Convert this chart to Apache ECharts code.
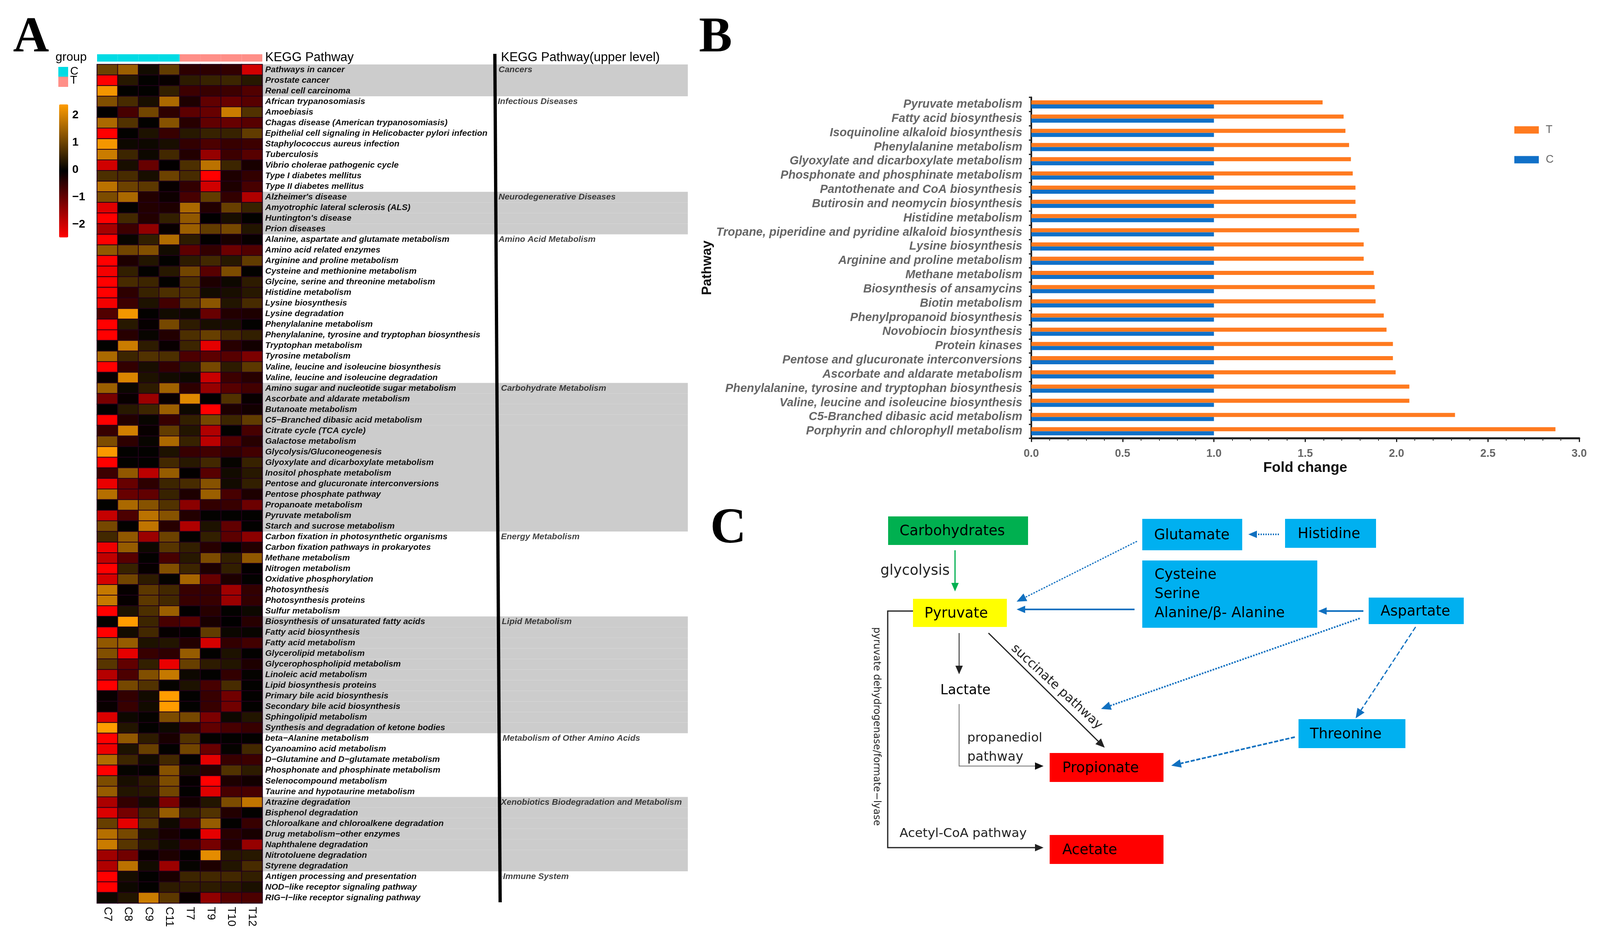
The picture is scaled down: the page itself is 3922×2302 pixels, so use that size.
<!DOCTYPE html>
<html><head><meta charset="utf-8">
<style>html,body{margin:0;padding:0;background:#fff}#c{width:3922px;height:2302px}</style>
<script src="https://cdn.jsdelivr.net/npm/echarts@6/dist/echarts.min.js"></script>
</head><body><div id="c"></div>
<script>
const samples=['C7','C8','C9','C11','T7','T9','T10','T12'];
const sampleGroups=['C','C','C','C','T','T','T','T'];
const pathways=["Pathways in cancer","Prostate cancer","Renal cell carcinoma","African trypanosomiasis","Amoebiasis","Chagas disease (American trypanosomiasis)","Epithelial cell signaling in Helicobacter pylori infection","Staphylococcus aureus infection","Tuberculosis","Vibrio cholerae pathogenic cycle","Type I diabetes mellitus","Type II diabetes mellitus","Alzheimer's disease","Amyotrophic lateral sclerosis (ALS)","Huntington's disease","Prion diseases","Alanine, aspartate and glutamate metabolism","Amino acid related enzymes","Arginine and proline metabolism","Cysteine and methionine metabolism","Glycine, serine and threonine metabolism","Histidine metabolism","Lysine biosynthesis","Lysine degradation","Phenylalanine metabolism","Phenylalanine, tyrosine and tryptophan biosynthesis","Tryptophan metabolism","Tyrosine metabolism","Valine, leucine and isoleucine biosynthesis","Valine, leucine and isoleucine degradation","Amino sugar and nucleotide sugar metabolism","Ascorbate and aldarate metabolism","Butanoate metabolism","C5−Branched dibasic acid metabolism","Citrate cycle (TCA cycle)","Galactose metabolism","Glycolysis/Gluconeogenesis","Glyoxylate and dicarboxylate metabolism","Inositol phosphate metabolism","Pentose and glucuronate interconversions","Pentose phosphate pathway","Propanoate metabolism","Pyruvate metabolism","Starch and sucrose metabolism","Carbon fixation in photosynthetic organisms","Carbon fixation pathways in prokaryotes","Methane metabolism","Nitrogen metabolism","Oxidative phosphorylation","Photosynthesis","Photosynthesis proteins","Sulfur metabolism","Biosynthesis of unsaturated fatty acids","Fatty acid biosynthesis","Fatty acid metabolism","Glycerolipid metabolism","Glycerophospholipid metabolism","Linoleic acid metabolism","Lipid biosynthesis proteins","Primary bile acid biosynthesis","Secondary bile acid biosynthesis","Sphingolipid metabolism","Synthesis and degradation of ketone bodies","beta−Alanine metabolism","Cyanoamino acid metabolism","D−Glutamine and D−glutamate metabolism","Phosphonate and phosphinate metabolism","Selenocompound metabolism","Taurine and hypotaurine metabolism","Atrazine degradation","Bisphenol degradation","Chloroalkane and chloroalkene degradation","Drug metabolism−other enzymes","Naphthalene degradation","Nitrotoluene degradation","Styrene degradation","Antigen processing and presentation","NOD−like receptor signaling pathway","RIG−I−like receptor signaling pathway"];
const upperLevels=["Cancers","Infectious Diseases","Neurodegenerative Diseases","Amino Acid Metabolism","Carbohydrate Metabolism","Energy Metabolism","Lipid Metabolism","Metabolism of Other Amino Acids","Xenobiotics Biodegradation and Metabolism","Immune System"];
const upperCounts=[3,9,4,14,14,8,11,6,7,3];
const heatValues=[
[1.0,1.45,.15,.9,-.45,-.45,-.5,-2.0],
[-2.45,.35,0,-.1,.4,.5,.55,.35],
[2.3,0,0,.45,-.6,-.55,-.6,-.8],
[1.2,.65,.2,1.6,-.3,-.95,-1.0,-.85],
[-.05,-.7,1.05,-.45,-.9,-1.0,1.9,.75],
[1.6,.75,0,1.25,-.4,-.95,-1.0,-.85],
[-2.45,0,.25,-.55,.35,.5,.5,.9],
[2.3,.1,.1,.2,-.5,-.75,-.55,-.6],
[1.9,.55,.1,.6,-.35,-1.45,-.6,-.85],
[-2.0,.2,-1.0,-.05,.7,1.75,.55,-.25],
[.7,.65,.2,1.0,.65,-2.45,-.3,-.5],
[1.75,1.0,.85,-.1,-.5,-2.0,-.3,-.7],
[1.15,1.6,-.35,-.15,-.7,.9,-.5,-1.7],
[-2.15,0,-.35,-.3,1.6,-.35,.95,.5],
[-2.45,.6,-.35,.45,1.35,-.02,.2,0],
[-1.6,-.6,-1.4,-.1,1.45,.9,1.1,.3],
[-2.45,.05,.45,1.65,.4,-.05,-.25,-.1],
[1.35,1.05,1.2,.15,-.9,-.5,-1.05,-.8],
[-2.45,-.3,.3,0,.4,.6,.35,.9],
[-2.35,.45,0,.35,1.05,-.85,1.15,0],
[-2.45,.65,.55,0,.7,-.3,.1,.4],
[-2.45,-.45,.5,.7,.7,.15,.2,.35],
[-2.35,-.6,.25,-.65,.8,1.3,.3,.65],
[-.8,2.3,0,.15,.1,-1.0,-.35,-.3],
[-2.45,.35,-.08,1.1,.4,.2,.2,0],
[-2.45,-.4,.05,-.35,.7,.95,.6,.45],
[0,1.9,.4,-.1,.55,-2.2,-.4,-.2],
[1.6,.55,.75,.7,-.75,-.9,-.85,-1.2],
[-2.45,-.5,.2,-.5,.35,1.1,.4,.85],
[-.1,2.05,.25,.15,.1,-1.95,-.6,-.4],
[1.45,.08,.4,1.5,-.45,-1.45,-.85,-.65],
[-1.15,-.1,-1.5,-.1,2.1,-.02,.75,-.1],
[-.02,.35,.55,1.45,.1,-2.45,-.3,-.2],
[-2.45,-.35,.05,-.55,.45,1.1,.55,.9],
[-.55,1.95,-.1,.9,.3,-1.7,0,-.7],
[1.15,-.45,.05,1.6,.5,-1.8,-.8,-.4],
[2.35,0,0,.25,-.55,-.65,-.5,-.65],
[-2.45,0,0,.6,.35,.6,.03,.5],
[-.6,1.35,-1.8,1.4,-.05,-.85,.15,.35],
[-2.25,-1.0,-.45,.55,.65,1.25,.15,.45],
[1.7,-1.0,-.95,.5,-.3,1.45,-.7,-.3],
[0,1.6,1.25,.75,-1.35,-.5,-.55,-1.05],
[-1.9,-.75,1.75,1.25,-.35,0,0,0],
[1.1,0,1.8,-.4,-1.7,.25,-.95,0],
[.6,1.35,-1.5,1.0,0,.45,-.9,-1.35],
[-2.3,1.4,.1,.8,.45,-.4,0,-.35],
[-1.85,-.85,0,-.7,.35,1.15,.45,1.35],
[-2.45,.5,-.08,1.2,.55,-.3,.45,-.05],
[-2.05,1.05,.4,.02,1.55,-1.0,-.3,0],
[1.85,-.08,.85,.6,-.55,-.55,-1.55,-.5],
[1.85,-.08,.85,.6,-.55,-.55,-1.5,-.5],
[-2.45,.25,.7,1.45,-.05,-.4,0,.1],
[0,2.4,.55,-.7,-.85,-.25,-.02,-.4],
[-2.45,.15,.6,-.08,0,.9,.08,.05],
[1.35,1.4,.25,.3,-.35,-2.05,-.5,-.65],
[1.2,-2.2,-.55,-.45,1.4,0,.25,0],
[.8,-.95,.45,-2.25,.95,.4,.3,-.3],
[-1.75,-.75,1.2,1.85,.1,0,-.5,.02],
[-2.45,1.1,.75,.02,.25,-.7,.65,0],
[-.1,-.5,.15,2.4,0,-.55,-1.1,0],
[-.1,-.55,.15,2.4,0,-.55,-1.1,0],
[-2.1,.1,.02,1.15,1.1,-1.2,.1,.3],
[2.4,.3,0,.1,-.55,-.95,-.7,-.55],
[-2.45,1.35,.4,-.25,.75,0,0,0],
[-2.3,.25,.95,0,1.05,-1.0,.02,.6],
[1.65,.55,.15,.6,0,-2.2,-.55,-.6],
[-2.45,.03,.02,1.25,.2,-.4,.75,.4],
[1.15,.2,.4,1.15,-.08,-2.45,-.3,-.2],
[1.4,.3,.35,1.05,0,-2.15,-.7,-.7],
[-1.65,-.5,.15,-1.2,-.2,.3,1.15,1.8],
[-2.1,-1.15,.55,1.4,.45,.75,-.35,0],
[.95,-2.2,.75,.12,-.7,1.4,0,-.55],
[1.7,1.1,.25,-.25,0,-2.2,-.4,-.25],
[1.9,.8,.35,.15,-.55,-1.15,-.35,-1.45],
[-1.55,-1.1,-.1,-.3,0,2.15,.35,.35],
[-1.7,1.75,.15,-1.5,.03,-.3,.3,.65],
[-2.45,.18,0,-.25,.55,.6,.6,.45],
[-2.45,.1,0,.4,.4,.4,.35,.22],
[.1,.3,1.9,.85,-.1,-1.4,-.85,-.75]];
const barPathways=["Pyruvate metabolism","Fatty acid biosynthesis","Isoquinoline alkaloid biosynthesis","Phenylalanine metabolism","Glyoxylate and dicarboxylate metabolism","Phosphonate and phosphinate metabolism","Pantothenate and CoA biosynthesis","Butirosin and neomycin biosynthesis","Histidine metabolism","Tropane, piperidine and pyridine alkaloid biosynthesis","Lysine biosynthesis","Arginine and proline metabolism","Methane metabolism","Biosynthesis of ansamycins","Biotin metabolism","Phenylpropanoid biosynthesis","Novobiocin biosynthesis","Protein kinases","Pentose and glucuronate interconversions","Ascorbate and aldarate metabolism","Phenylalanine, tyrosine and tryptophan biosynthesis","Valine, leucine and isoleucine biosynthesis","C5-Branched dibasic acid metabolism","Porphyrin and chlorophyll metabolism"];
const foldT=[1.595,1.71,1.72,1.74,1.75,1.76,1.775,1.775,1.78,1.795,1.82,1.82,1.875,1.88,1.885,1.93,1.945,1.98,1.98,1.995,2.07,2.07,2.32,2.87];
const foldC=[1,1,1,1,1,1,1,1,1,1,1,1,1,1,1,1,1,1,1,1,1,1,1,1];

// layout
const H={l:238,t:158,w:405,h:2056};
const bandW=1043;
const upperX=[1222,1220,1222,1222,1228,1228,1230,1232,1228,1232];
const F='"Liberation Sans",Arial,sans-serif';
const FD='"DejaVu Sans",sans-serif';
const colC='#00dbe4',colT='#ff8f88',grey='#cccccc';

const heatData=[];
heatValues.forEach((r,y)=>r.forEach((v,x)=>heatData.push([x,y,v])));
const bandData=[],upperData=[];
let row=0;
upperCounts.forEach((n,g)=>{
  upperData.push({value:[(upperX[g]-(H.l+H.w))/bandW,row],name:upperLevels[g]});
  for(let i=0;i<n;i++){bandData.push({value:1,itemStyle:g%2===0?{color:grey,borderColor:grey,borderWidth:2}:{color:'rgba(0,0,0,0)'}});row++;}
});

// panel C content
const boxes=[
 {t:['Carbohydrates'],c:'#00b050',r:[2177,1266,343,70],tx:2205},
 {t:['Glutamate'],c:'#00b0f0',r:[2800,1272,245,77],tx:2829},
 {t:['Histidine'],c:'#00b0f0',r:[3150,1272,223,71],tx:3181},
 {t:['Cysteine','Serine','Alanine/β- Alanine'],c:'#00b0f0',r:[2800,1374,429,165],tx:2830,ty:[1410,1457,1504]},
 {t:['Aspartate'],c:'#00b0f0',r:[3355,1465,233,65],tx:3384},
 {t:['Pyruvate'],c:'#ffff00',r:[2238,1468,230,69],tx:2266},
 {t:['Threonine'],c:'#00b0f0',r:[3183,1763,262,71],tx:3211},
 {t:['Propionate'],c:'#ff0000',r:[2573,1846,279,71],tx:2604},
 {t:['Acetate'],c:'#ff0000',r:[2573,2047,279,71],tx:2604}];
const BL='#1070c0',BK='#111',GN='#00b050';
const arrows=[
 {p:[[2341,1349],[2341,1450]],c:GN,w:3,s:14},
 {p:[[2787,1327],[2492,1475]],c:BL,w:3,d:[4,3],s:16},
 {p:[[3135,1310],[3060,1310]],c:BL,w:4,d:[3,3],s:14},
 {p:[[2781,1494],[2492,1494]],c:BL,w:4,s:14},
 {p:[[3342,1498],[3231,1498]],c:BL,w:4,s:14},
 {p:[[3333,1516],[2699,1738]],c:BL,w:4,d:[4,3],s:16},
 {p:[[3470,1537],[3323,1761]],c:BL,w:3,d:[12,6],s:16},
 {p:[[3174,1807],[2871,1877]],c:BL,w:4,d:[10,4],s:16},
 {p:[[2351,1552],[2351,1653]],c:'#222',w:2,s:14},
 {p:[[2423,1552],[2708,1833]],c:'#222',w:3,s:15},
 {p:[[2351,1726],[2351,1878],[2558,1878]],c:'#777',hc:BK,w:2,s:14},
 {p:[[2238,1498],[2176,1498],[2176,2078],[2558,2078]],c:'#222',w:3,s:14}];
const labelsC=[
 {t:'glycolysis',x:2158,y:1400,fs:35},
 {t:'Lactate',x:2305,y:1693,fs:33,c:'#000'},
 {t:'propanediol',x:2371,y:1810,fs:31},
 {t:'pathway',x:2371,y:1857,fs:32},
 {t:'Acetyl-CoA pathway',x:2205,y:2044,fs:31},
 {t:'pyruvate dehydrogenase/formate−lyase',x:2148,y:1781,fs:24,rot:-Math.PI/2,al:'center'},
 {t:'succinate pathway',x:2590,y:1684,fs:31,rot:-0.745,al:'center'}];

const gfx=[];
function txt(t,x,y,fs,o={}){gfx.push({type:'text',x,y,rotation:o.rot||0,z:30,style:{text:t,x:0,y:0,font:`${o.it?'italic ':''}${o.w||'normal'} ${fs}px ${o.f||F}`,fill:o.c||'#000',align:o.al||'left',verticalAlign:'middle'}});}
function rect(x,y,w,h,c){gfx.push({type:'rect',z:20,shape:{x,y,width:w,height:h},style:{fill:c}});}
// panel letters
txt('A',76,94,122,{f:'"Liberation Serif",serif',w:'bold',al:'center'});
txt('B',1754,94,122,{f:'"Liberation Serif",serif',w:'bold',al:'center'});
txt('C',1785,1298,122,{f:'"Liberation Serif",serif',w:'bold',al:'center'});
// panel A annotations
txt('group',136,141,30);
txt('KEGG Pathway',650,141,31);
txt('KEGG Pathway(upper level)',1228,141,31);
rect(143,164,24,24,colC);rect(143,188,24,25,colT);
txt('C',172,175,28);txt('T',172,197,28);
gfx.push({type:'line',z:25,shape:{x1:1213,y1:132,x2:1226,y2:2212},style:{stroke:'#000',lineWidth:8}});
// panel C
boxes.forEach(b=>{
  rect(b.r[0],b.r[1],b.r[2],b.r[3],b.c);
  b.t.forEach((s,i)=>txt(s,b.tx,b.ty?b.ty[i]:b.r[1]+b.r[3]/2+2,35,{f:FD}));
});
arrows.forEach(a=>{
  const n=a.p.length,e=a.p[n-1],q=a.p[n-2],ang=Math.atan2(e[1]-q[1],e[0]-q[0]);
  const base=[e[0]-a.s*1.5*Math.cos(ang),e[1]-a.s*1.5*Math.sin(ang)];
  const pts=a.p.slice(0,n-1).concat([base]);
  gfx.push({type:'polyline',z:22,shape:{points:pts},style:{stroke:a.c,lineWidth:a.w,lineDash:a.d||null,fill:null}});
  const nx=-Math.sin(ang),ny=Math.cos(ang),hw=a.s*.65;
  gfx.push({type:'polygon',z:22,shape:{points:[e,[base[0]+nx*hw,base[1]+ny*hw],[base[0]-nx*hw,base[1]-ny*hw]]},style:{fill:a.hc||a.c}});
});
labelsC.forEach(l=>txt(l.t,l.x,l.y,l.fs,{f:FD,c:l.c||'#222',rot:l.rot,al:l.al}));

const option={
 animation:false,backgroundColor:'#fff',
 grid:[
  {left:H.l,top:H.t,width:H.w,height:H.h},
  {left:H.l+H.w,top:H.t,width:bandW,height:H.h},
  {left:H.l,top:133,width:H.w,height:18},
  {left:145,top:256,width:22,height:326},
  {left:2528,top:238.6,width:1343,height:836}],
 xAxis:[
  {gridIndex:0,type:'category',data:samples,position:'bottom',axisLine:{show:false},axisTick:{show:false},
   axisLabel:{interval:0,rotate:-90,margin:9,fontSize:28,fontFamily:F,color:'#000'}},
  {gridIndex:1,type:'value',min:0,max:1,show:false},
  {gridIndex:2,type:'category',data:samples,show:false},
  {gridIndex:3,type:'category',data:[''],show:false},
  {gridIndex:4,type:'value',min:0,max:3,interval:.5,splitLine:{show:false},
   axisLine:{show:true,lineStyle:{color:'#222',width:5}},
   axisTick:{show:true,length:9,lineStyle:{color:'#222',width:3}},
   minorTick:{show:true,splitNumber:5,length:6,lineStyle:{color:'#333',width:2}},
   axisLabel:{margin:24,fontSize:27,fontFamily:F,color:'#666',fontWeight:'bold',formatter:v=>v.toFixed(1)},
   name:'Fold change',nameLocation:'middle',nameGap:55,
   nameTextStyle:{fontSize:35,fontWeight:'bold',fontFamily:F,color:'#111'}}],
 yAxis:[
  {gridIndex:0,type:'category',data:pathways,inverse:true,position:'right',z:10,axisLine:{show:false},axisTick:{show:false},
   axisLabel:{interval:0,margin:7,fontSize:21,fontWeight:'bold',fontStyle:'italic',fontFamily:F,color:'#111'}},
  {gridIndex:1,type:'category',data:pathways,inverse:true,show:false},
  {gridIndex:2,type:'value',min:0,max:1,show:false},
  {gridIndex:3,type:'value',min:-2.48,max:2.39,position:'right',splitLine:{show:false},axisLine:{show:false},axisTick:{show:false},
   axisLabel:{customValues:[-2,-1,0,1,2],margin:10,fontSize:28,fontFamily:F,color:'#000',fontWeight:'bold',formatter:v=>String(v).replace('-','−')}},
  {gridIndex:4,type:'category',data:barPathways,inverse:true,
   axisLine:{show:true,lineStyle:{color:'#222',width:4}},
   axisTick:{show:true,length:6,lineStyle:{color:'#222',width:3}},
   axisLabel:{interval:0,margin:22,fontSize:29,fontWeight:'bold',fontStyle:'italic',fontFamily:F,color:'#666'},
   name:'Pathway',nameLocation:'middle',nameGap:778,nameRotate:90,nameMoveOverlap:false,
   nameTextStyle:{fontSize:33,fontWeight:'bold',fontFamily:F,color:'#111'}}],
 visualMap:[{type:'continuous',seriesIndex:0,dimension:2,min:-2.45,max:2.4,left:145,top:256,itemWidth:22,itemHeight:326,text:['',''],
   calculable:false,showLabel:false,padding:0,inRange:{color:['#ff0000','#000000','#ff9c00']}}],
 legend:{data:['T','C'],orient:'vertical',left:3707,top:300,itemWidth:60,itemHeight:18,itemGap:46,icon:'rect',
   textStyle:{fontSize:27,fontFamily:F,color:'#666',padding:[0,0,0,12]}},
 series:[
  {type:'heatmap',xAxisIndex:0,yAxisIndex:0,data:heatData,itemStyle:{borderColor:'#23001a',borderWidth:2},z:3},
  {type:'bar',xAxisIndex:1,yAxisIndex:1,data:bandData,barWidth:'100%',z:0,silent:true},
  {type:'scatter',xAxisIndex:1,yAxisIndex:1,data:upperData,symbolSize:0,z:5,
   label:{show:true,position:'right',distance:0,formatter:p=>p.name,fontSize:21,fontWeight:'bold',fontStyle:'italic',fontFamily:F,color:'#111'}},
  {type:'bar',xAxisIndex:2,yAxisIndex:2,barWidth:'100%',data:sampleGroups.map(g=>({value:1,itemStyle:{color:g==='C'?colC:colT}}))},
  {type:'bar',name:'T',xAxisIndex:4,yAxisIndex:4,data:foldT,barWidth:10,barGap:'0%',itemStyle:{color:'#ff7a1f'}},
  {type:'bar',name:'C',xAxisIndex:4,yAxisIndex:4,data:foldC,barWidth:10,itemStyle:{color:'#1070c8'}}],
 graphic:{elements:gfx}
};
echarts.init(document.getElementById('c')).setOption(option);
</script></body></html>
